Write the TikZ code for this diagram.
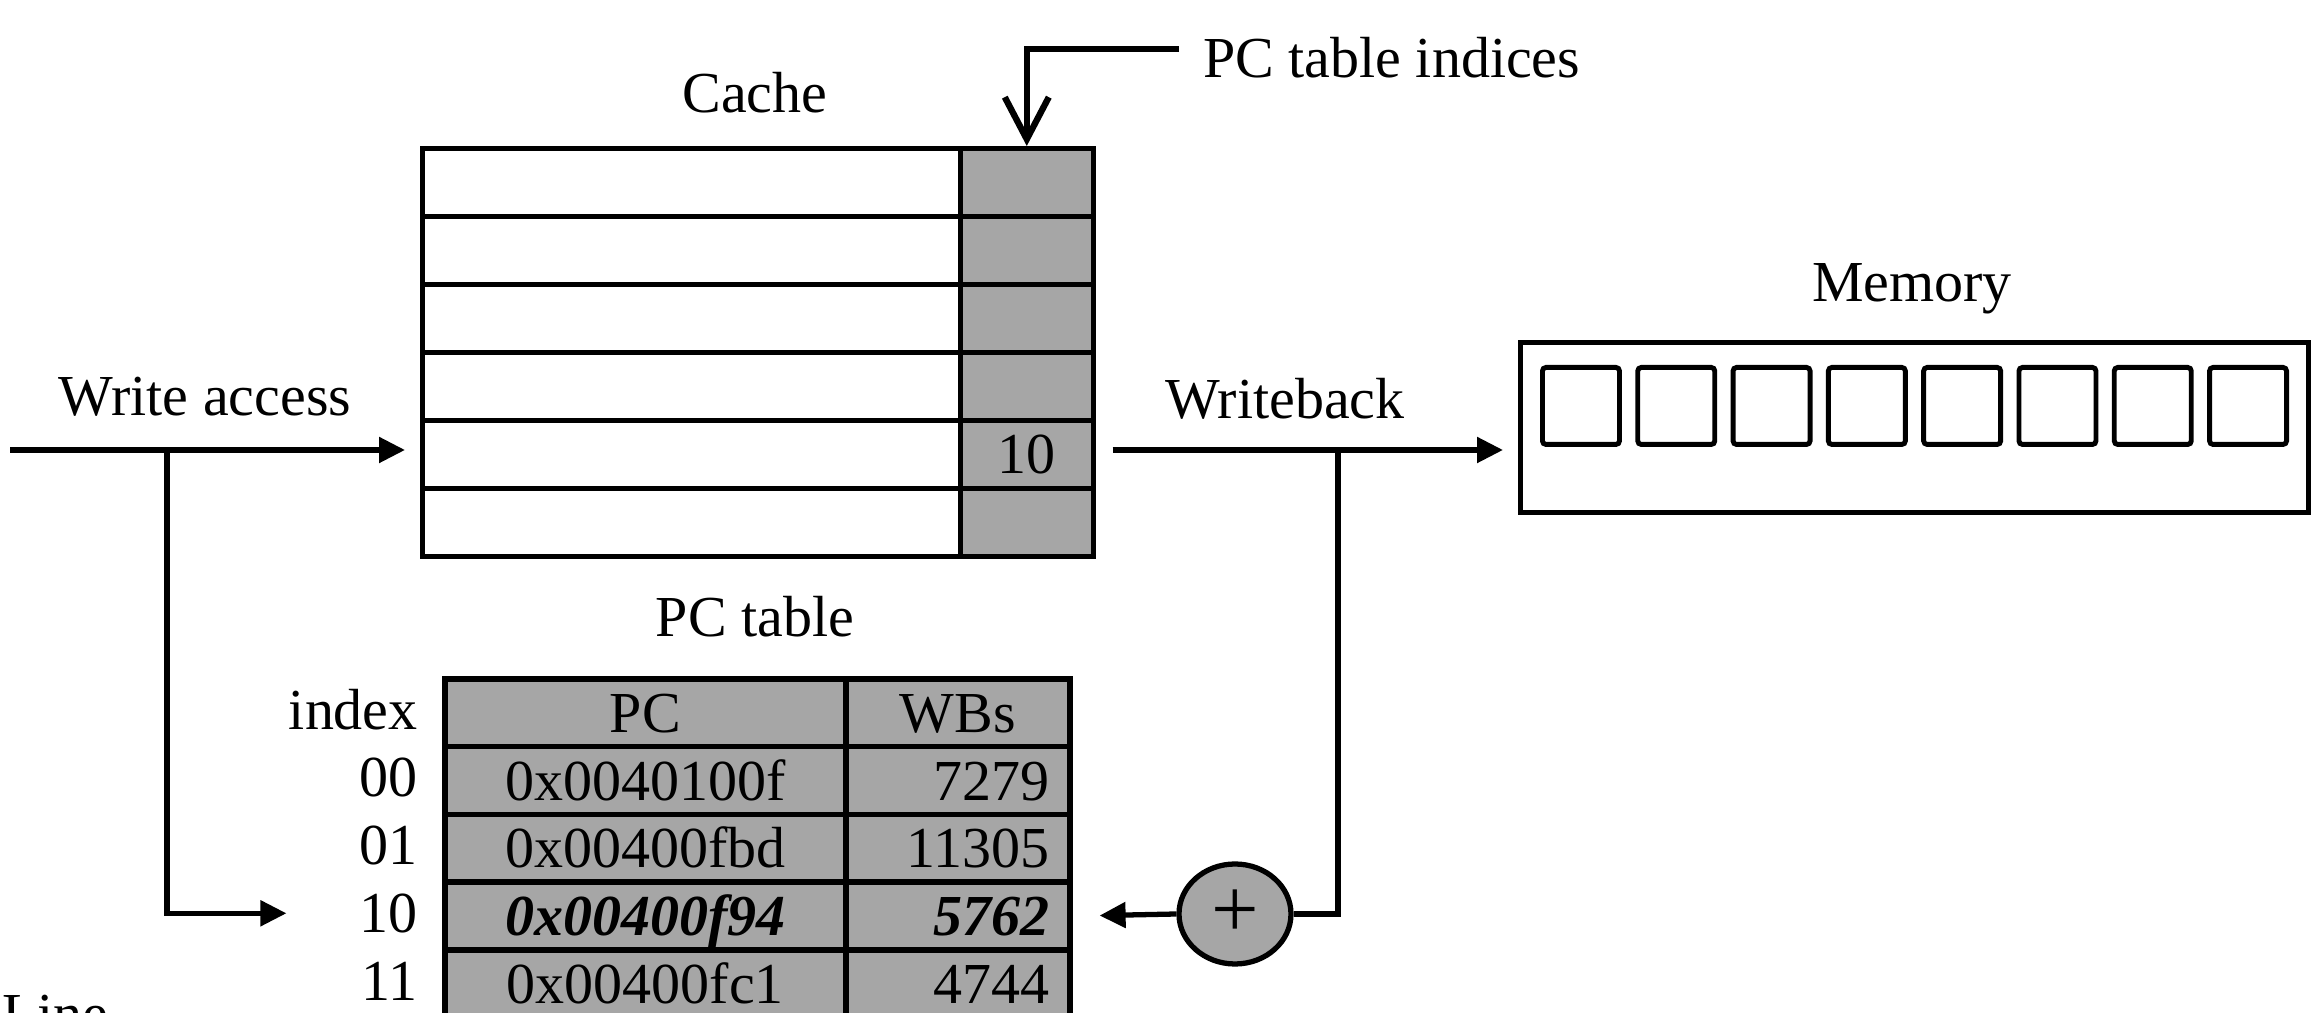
\documentclass[tikz,border=0pt]{standalone}
\usepackage{fontspec}
\setmainfont{Liberation Serif}
\usepackage{tikz}
\usetikzlibrary{
  calc,
  arrows.meta,
  shapes.geometric,
}
\definecolor{tabgray}{HTML}{A6A6A6}

\begin{document}
\begin{tikzpicture}[
    line width=1.3pt,
    lab/.style={font=\fontsize{16.5}{19.8}\selectfont, inner sep=0pt},
    cell/.style={draw, minimum height=0.68cm, inner sep=0pt, anchor=north west},
    tag/.style={cell, fill=tabgray},
    pcell/.style={lab, draw, fill=tabgray, line width=1.6pt, minimum height=0.678cm,
        text height=0.39cm, text depth=0cm, anchor=north west},
    slot/.style={draw, line width=1.4pt, rounded corners=1pt, minimum width=0.77cm,
        minimum height=0.77cm, inner sep=0pt, anchor=north west},
    arr/.style={line width=1.5pt, -{Triangle[length=0.26cm, width=0.25cm]}},
    barb/.style={line width=1.8pt, -{Straight Barb[length=0.42cm, width=0.44cm]}},
  ]
  \useasboundingbox (0,0) rectangle (23.11,10.13);

  % cache
  \node[lab, anchor=base] (cachelab) at (7.55,9.00) {Cache};
  \foreach \i in {0,...,5} {
      \node[cell, minimum width=5.38cm] (c\i) at (4.20,8.67-0.68*\i) {};
      \node[tag, minimum width=1.33cm] (t\i) at (9.58,8.67-0.68*\i) {};
    }
  \node[lab] (tagval) at (t4.center) {10};

  \coordinate (pcin) at (11.79,9.64);
  \node[lab, anchor=base west] (pcti) at (12.01,9.35) {PC table indices};
  \draw[barb] (pcin) -| (t0.north);

  % memory
  \node[lab, anchor=base] (memlab) at (19.12,7.11) {Memory};
  \node[draw, line width=1.5pt, minimum width=7.88cm, minimum height=1.70cm, inner sep=0pt,
    anchor=north west] (mem) at (15.18,6.73) {};
  \foreach \i in {0,...,7} {
      \node[slot] (m\i) at (15.40+0.953*\i,6.48) {};
    }

  % write access
  \coordinate (win) at (0.10,5.63);
  \coordinate (wsplit) at (1.67,5.63);
  \node[lab, anchor=base] (walab) at (2.05,5.97) {Write access};
  \draw[arr, shorten >=0.15cm] (win) -- (win -| c4.west);

  % writeback
  \coordinate (wbsplit) at (13.38,5.63);
  \node[lab, anchor=base] (wblab) at (12.85,5.94) {Writeback};
  \draw[arr, shorten <=0.17cm, shorten >=0.15cm] (t4.east |- win) -- (mem.west |- win);

  % pc table
  \node[lab, anchor=base] (pctlab) at (7.55,3.76) {PC table};
  \node[pcell, minimum width=4.01cm] (pc0) at (4.42,3.37) {PC};
  \node[pcell, minimum width=2.24cm] (wb0) at (8.43,3.37) {WBs};
  \node[lab, anchor=east] (i0) at (4.20,3.37-0.339) {index};
  \foreach \k/\idx/\pc/\wb in {
      1/00/0x0040100f/7279,
      2/01/0x00400fbd/11305,
      3/10/{\textbf{\textit{0x00400f94}}}/{\textbf{\textit{5762}}},
      4/11/0x00400fc1/4744} {
      \node[pcell, minimum width=4.01cm] (pc\k) at (4.42,3.37-0.678*\k) {\pc};
      \node[pcell, text width=1.84cm, inner xsep=0.2cm, align=right]
        (wb\k) at (8.43,3.37-0.678*\k) {\wb};
      \node[lab, anchor=east] (i\k) at (4.20,3.37-0.678*\k-0.339) {\idx};
    }

  \draw[arr] (wsplit) |- ([xshift=-0.71cm]i3.west);

  \node[draw, ellipse, fill=tabgray, line width=1.5pt, minimum width=1.12cm,
    minimum height=1.00cm, inner sep=0pt, font=\fontsize{24}{28}\selectfont]
    (add) at (12.35,0.99) {+};
  \draw[line width=1.5pt] (wbsplit) |- (add.east);
  \draw[arr, shorten >=0.27cm] (add.west) -- (wb3.east);

  \node[lab, anchor=base west] (linelab) at (0.0,-0.21) {Line};
\end{tikzpicture}
\end{document}
